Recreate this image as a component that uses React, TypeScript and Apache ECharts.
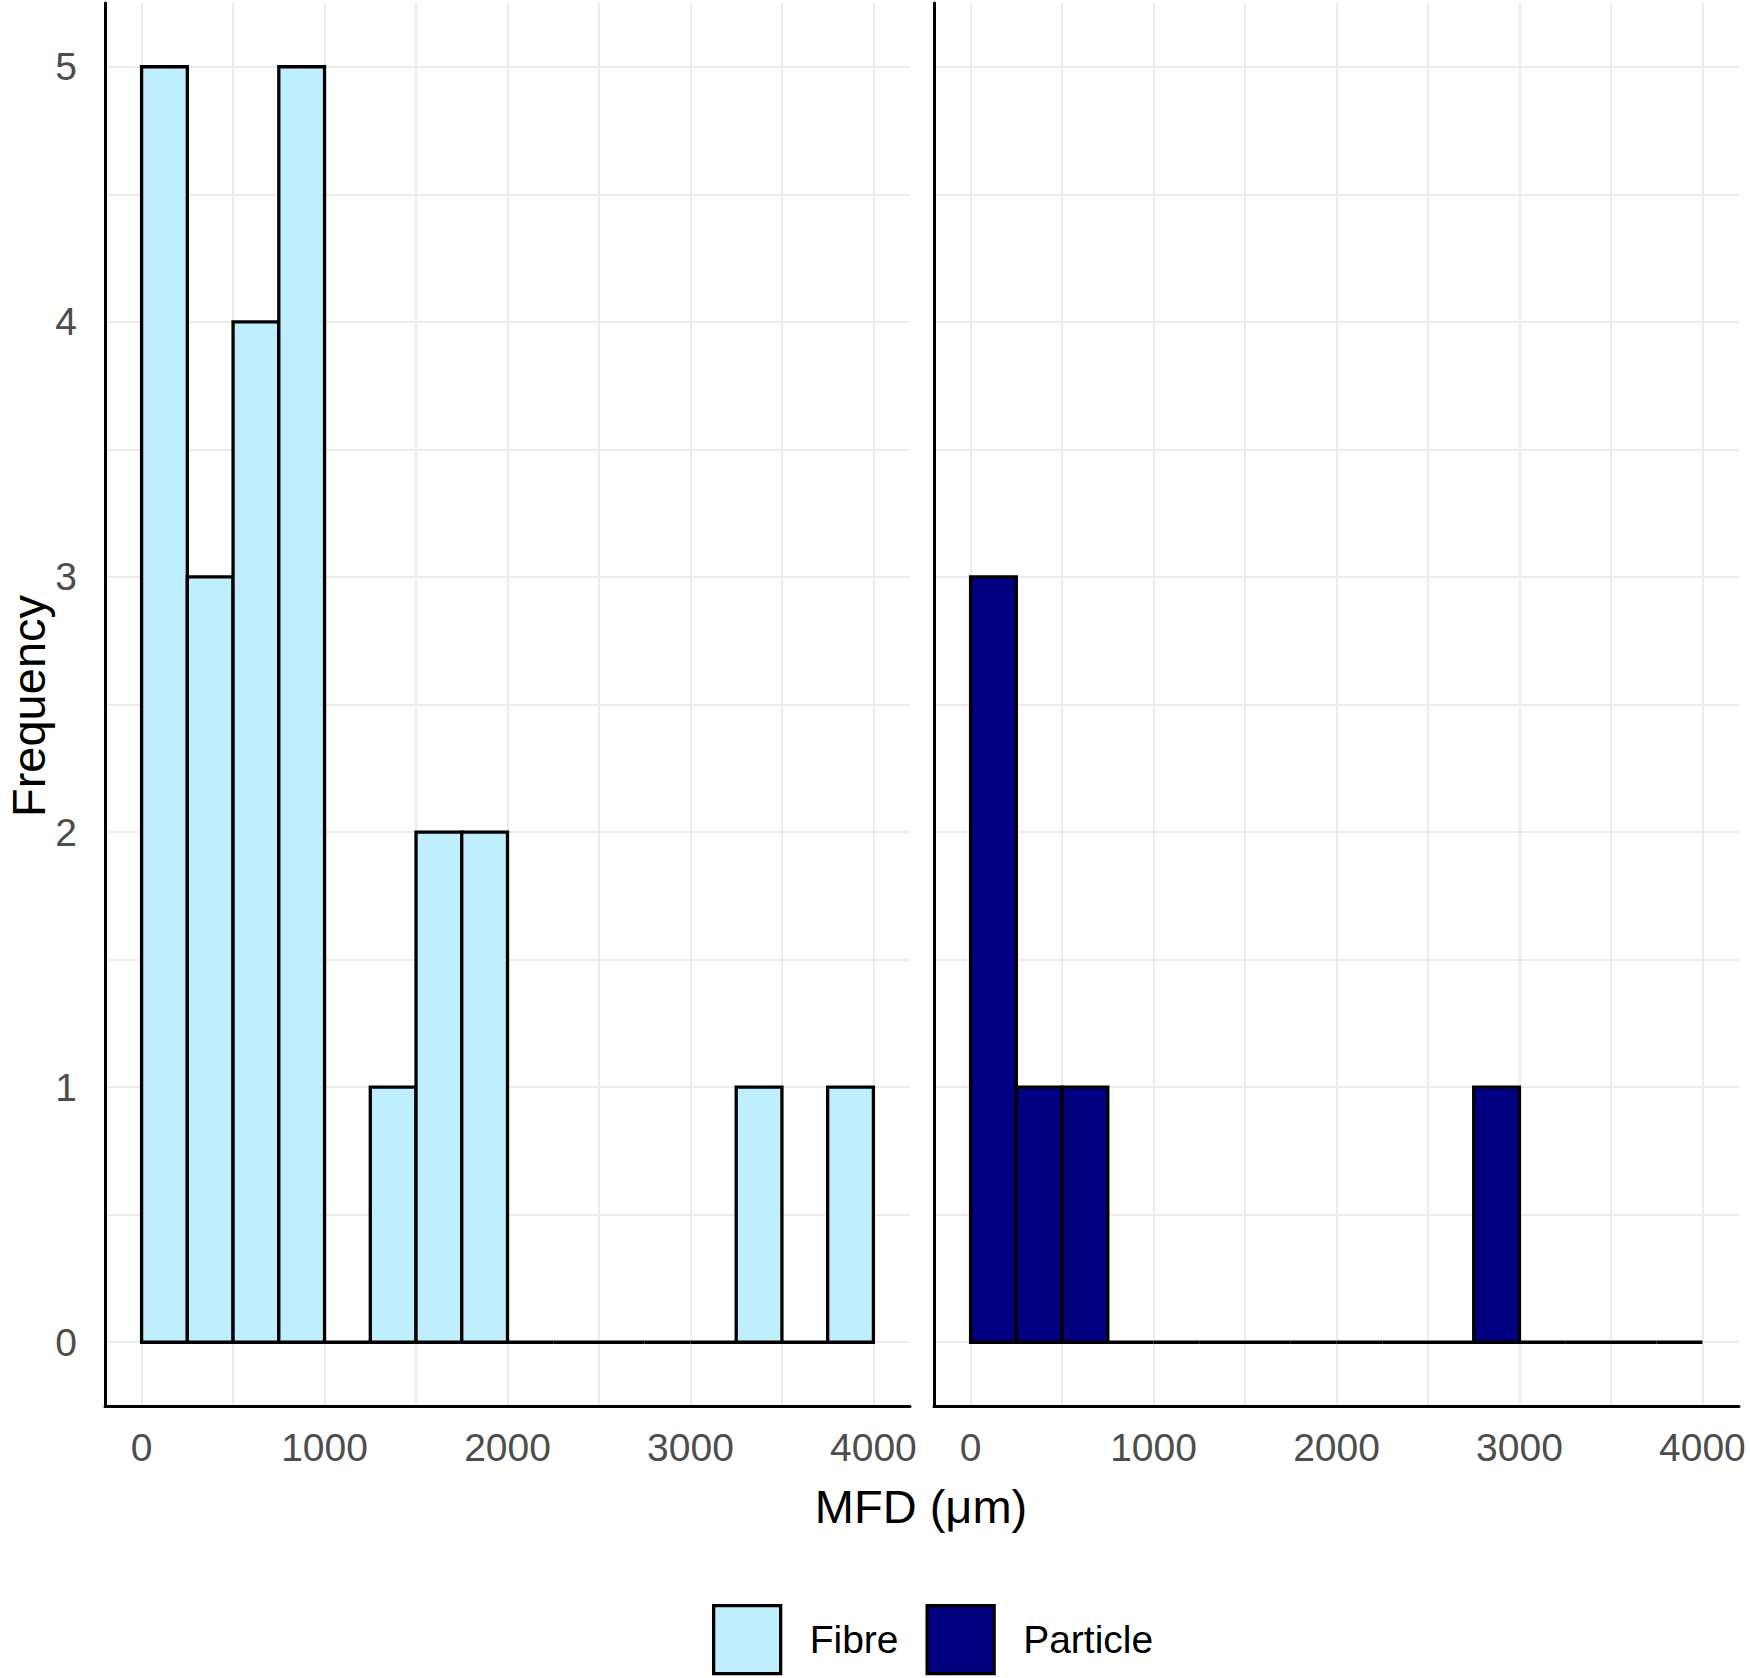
import React, { useEffect, useRef } from "react";
import * as echarts from "echarts";

// Histogram bins (bin width 250 µm)
const binStarts = [0, 250, 500, 750, 1000, 1250, 1500, 1750, 2000, 2250, 2500, 2750, 3000, 3250, 3500, 3750];
const binWidth = 250;
const fibreCounts = [5, 3, 4, 5, 0, 1, 2, 2, 0, 0, 0, 0, 0, 1, 0, 1];
const particleCounts = [3, 1, 1, 0, 0, 0, 0, 0, 0, 0, 0, 1, 0, 0, 0, 0];

const xTickLabels = [0, 1000, 2000, 3000, 4000];
const xGridValues = [0, 500, 1000, 1500, 2000, 2500, 3000, 3500, 4000];
const yTickLabels = [0, 1, 2, 3, 4, 5];
const yGridValues = [0, 0.5, 1, 1.5, 2, 2.5, 3, 3.5, 4, 4.5, 5];

const seriesNames = ["Fibre", "Particle"];
const seriesColors = ["#BFEFFF", "#000080"];

const FONT = "Liberation Sans, Arial, sans-serif";

function toData(counts: number[]) {
  return binStarts.map((s, i) => [s, s + binWidth, counts[i]]);
}

function renderHist(color: string) {
  return (params: any, api: any) => {
    const x0 = api.value(0);
    const x1 = api.value(1);
    const c = api.value(2);
    const p0 = api.coord([x0, c]);
    const p1 = api.coord([x1, 0]);
    if (c <= 0) {
      return {
        type: "line",
        shape: { x1: p0[0], y1: p1[1], x2: p1[0], y2: p1[1] },
        style: { stroke: "#000", lineWidth: 3.3 },
      };
    }
    return {
      type: "rect",
      shape: { x: p0[0], y: p0[1], width: p1[0] - p0[0], height: p1[1] - p0[1] },
      style: { fill: color, stroke: "#000", lineWidth: 3.3 },
    };
  };
}

function makeXAxis(gridIndex: number) {
  return {
    type: "value",
    gridIndex,
    min: -200,
    max: 4200,
    axisLine: { show: true, onZero: false, lineStyle: { color: "#000", width: 3 } },
    axisTick: { show: false, customValues: xGridValues },
    axisLabel: {
      show: true,
      customValues: xTickLabels,
      formatter: (v: number) => String(v),
      fontSize: 39,
      fontFamily: FONT,
      color: "#4d4d4d",
      margin: 22,
    },
    splitLine: { show: true, lineStyle: { color: "#ebebeb", width: 2 } },
  };
}

function makeYAxis(gridIndex: number, showLabels: boolean) {
  return {
    type: "value",
    gridIndex,
    min: -0.25,
    max: 5.25,
    axisLine: { show: true, onZero: false, lineStyle: { color: "#000", width: 3 } },
    axisTick: { show: false, customValues: yGridValues },
    axisLabel: {
      show: showLabels,
      customValues: yTickLabels,
      formatter: (v: number) => String(v),
      fontSize: 39,
      fontFamily: FONT,
      color: "#4d4d4d",
      margin: 28,
    },
    splitLine: { show: true, lineStyle: { color: "#ebebeb", width: 2 } },
  };
}

export default function App() {
  const ref = useRef<HTMLDivElement>(null);

  useEffect(() => {
    if (!ref.current) return;
    const chart = echarts.init(ref.current, undefined, { renderer: "svg" });
    const option: any = {
      animation: false,
      backgroundColor: "#ffffff",
      grid: [
        { left: 105, top: 3, width: 805, height: 1403, outerBoundsMode: "none", containLabel: false },
        { left: 934, top: 3, width: 805, height: 1403, outerBoundsMode: "none", containLabel: false },
      ],
      xAxis: [makeXAxis(0), makeXAxis(1)],
      yAxis: [makeYAxis(0, true), makeYAxis(1, false)],
      legend: {
        left: 707,
        top: 1599,
        orient: "horizontal",
        itemWidth: 67,
        itemHeight: 68,
        itemGap: 27,
        icon: "rect",
        textStyle: { fontSize: 39, fontFamily: FONT, color: "#000", padding: [0, 0, 0, 24] },
        data: seriesNames.map((n, i) => ({
          name: n,
          itemStyle: { color: seriesColors[i], borderColor: "#000", borderWidth: 3.3 },
        })),
      },
      series: [
        {
          name: seriesNames[0],
          type: "custom",
          xAxisIndex: 0,
          yAxisIndex: 0,
          renderItem: renderHist(seriesColors[0]),
          itemStyle: { color: seriesColors[0] },
          encode: { x: [0, 1], y: 2 },
          data: toData(fibreCounts),
        },
        {
          name: seriesNames[1],
          type: "custom",
          xAxisIndex: 1,
          yAxisIndex: 1,
          renderItem: renderHist(seriesColors[1]),
          itemStyle: { color: seriesColors[1] },
          encode: { x: [0, 1], y: 2 },
          data: toData(particleCounts),
        },
      ],
      graphic: [
        {
          type: "text",
          x: 921,
          y: 1506,
          style: {
            text: "MFD (μm)",
            fontSize: 47,
            fontFamily: FONT,
            fill: "#000",
            textAlign: "center",
            textVerticalAlign: "middle",
          },
        },
        {
          type: "text",
          x: 28,
          y: 706,
          rotation: Math.PI / 2,
          style: {
            text: "Frequency",
            fontSize: 47,
            fontFamily: FONT,
            fill: "#000",
            textAlign: "center",
            textVerticalAlign: "middle",
          },
        },
      ],
    };
    chart.setOption(option);
    return () => chart.dispose();
  }, []);

  return (
    <div
      ref={ref}
      style={{ position: "absolute", left: 0, top: 0, width: 1750, height: 1678 }}
    />
  );
}
